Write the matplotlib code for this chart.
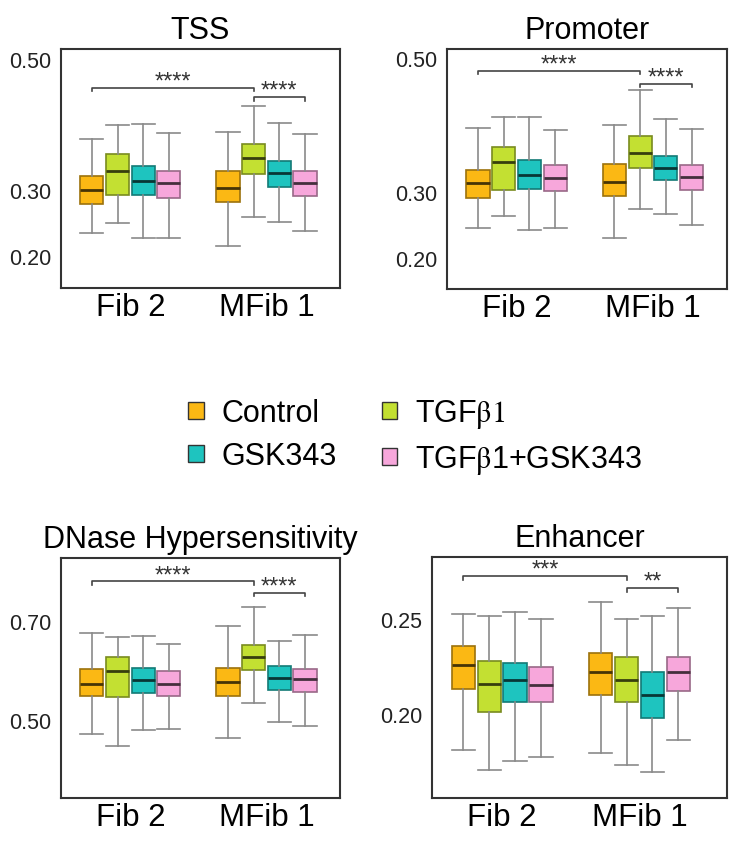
import numpy as np
import matplotlib
matplotlib.use("Agg")
import matplotlib.pyplot as plt
from matplotlib.patches import Patch
from matplotlib.colors import to_rgb

plt.rcParams['font.family'] = ['Liberation Sans', 'DejaVu Sans']
plt.rcParams['mathtext.fontset'] = 'stix'

# Groups and treatments
groups = ['Fib 2', 'MFib 1']
treatments = ['Control', 'TGF$\\mathrm{\\beta1}$', 'GSK343', 'TGF$\\mathrm{\\beta}$1+GSK343']
colors = ['#FBB814', '#C3E032', '#1EC4BF', '#F7A7DB']

# Box stats: Fib 2 (4 treatments) then MFib 1 (4 treatments)
tss_low = [0.235, 0.251, 0.228, 0.228, 0.215, 0.260, 0.252, 0.239]
tss_q1 = [0.279, 0.293, 0.293, 0.288, 0.283, 0.325, 0.305, 0.291]
tss_med = [0.300, 0.330, 0.314, 0.311, 0.304, 0.349, 0.326, 0.311]
tss_q3 = [0.322, 0.355, 0.337, 0.330, 0.329, 0.371, 0.345, 0.329]
tss_high = [0.378, 0.400, 0.401, 0.387, 0.389, 0.428, 0.402, 0.386]

prom_low = [0.245, 0.264, 0.243, 0.245, 0.230, 0.274, 0.266, 0.250]
prom_q1 = [0.290, 0.303, 0.304, 0.301, 0.293, 0.336, 0.317, 0.303]
prom_med = [0.313, 0.345, 0.325, 0.321, 0.315, 0.358, 0.336, 0.322]
prom_q3 = [0.332, 0.367, 0.348, 0.340, 0.341, 0.383, 0.354, 0.340]
prom_high = [0.395, 0.412, 0.412, 0.392, 0.400, 0.452, 0.409, 0.394]

dnase_low = [0.473, 0.448, 0.481, 0.483, 0.465, 0.536, 0.496, 0.489]
dnase_q1 = [0.549, 0.547, 0.555, 0.550, 0.550, 0.602, 0.561, 0.558]
dnase_med = [0.574, 0.600, 0.582, 0.573, 0.577, 0.629, 0.586, 0.584]
dnase_q3 = [0.604, 0.629, 0.606, 0.599, 0.606, 0.653, 0.609, 0.604]
dnase_high = [0.676, 0.668, 0.671, 0.654, 0.690, 0.729, 0.661, 0.672]

enh_low = [0.181, 0.170, 0.175, 0.177, 0.179, 0.173, 0.169, 0.186]
enh_q1 = [0.213, 0.201, 0.206, 0.206, 0.210, 0.206, 0.198, 0.212]
enh_med = [0.226, 0.216, 0.218, 0.215, 0.222, 0.218, 0.210, 0.222]
enh_q3 = [0.236, 0.228, 0.227, 0.225, 0.232, 0.230, 0.222, 0.230]
enh_high = [0.253, 0.252, 0.254, 0.250, 0.259, 0.250, 0.252, 0.256]

panels = [
    ('TSS', [tss_low, tss_q1, tss_med, tss_q3, tss_high],
     [0.20, 0.30, 0.50], ['0.20', '0.30', '0.50'], (0.152, 0.515),
     (0.456, '****'), (0.442, '****')),
    ('Promoter', [prom_low, prom_q1, prom_med, prom_q3, prom_high],
     [0.20, 0.30, 0.50], ['0.20', '0.30', '0.50'], (0.154, 0.514),
     (0.4815, '****'), (0.4615, '****')),
    ('DNase Hypersensitivity', [dnase_low, dnase_q1, dnase_med, dnase_q3, dnase_high],
     [0.50, 0.70], ['0.50', '0.70'], (0.343, 0.828),
     (0.781, '****'), (0.758, '****')),
    ('Enhancer', [enh_low, enh_q1, enh_med, enh_q3, enh_high],
     [0.20, 0.25], ['0.20', '0.25'], (0.1553, 0.283),
     (0.273, '***'), (0.2666, '**')),
]

# axes rectangles in figure fractions
rects = [
    [0.0824, 0.658, 0.377, 0.283],
    [0.604, 0.657, 0.378, 0.284],
    [0.0824, 0.0544, 0.377, 0.284],
    [0.584, 0.0544, 0.399, 0.285],
]

offsets = np.array([-0.283, -0.094, 0.094, 0.283])
box_w = 0.17


def darker(c, f):
    r, g, b = to_rgb(c)
    return (r * f, g * f, b * f)


fig = plt.figure(figsize=(7.4, 8.45), dpi=100)

for (title, stats_lists, yt, ytl, ylim, br_long, br_short), rect in zip(panels, rects):
    ax = fig.add_axes(rect)
    low, q1, med, q3, high = stats_lists
    positions = []
    for gi in range(2):
        for ti in range(4):
            positions.append(gi + 1 + offsets[ti])
    for i in range(8):
        c = colors[i % 4]
        st = [dict(whislo=low[i], q1=q1[i], med=med[i], q3=q3[i], whishi=high[i], fliers=[])]
        ax.bxp(st, positions=[positions[i]], widths=box_w, patch_artist=True,
               showfliers=False,
               boxprops=dict(facecolor=c, edgecolor=darker(c, 0.62), linewidth=1.2),
               medianprops=dict(color=darker(c, 0.28), linewidth=2),
               whiskerprops=dict(color='#8a8a8a', linewidth=1.2),
               capprops=dict(color='#8a8a8a', linewidth=1.2),
               capwidths=box_w, manage_ticks=False)

    ax.set_xlim(0.49, 2.54 if title != 'Enhancer' else 2.64)
    ax.set_ylim(*ylim)
    ax.set_yticks(yt)
    ax.set_yticklabels(ytl, fontsize=15.5, color='#222222')
    ax.set_xticks([1, 2])
    ax.set_xticklabels(groups, fontsize=22.5)
    ax.tick_params(length=0)
    ax.tick_params(axis='y', pad=7)
    ax.tick_params(axis='x', pad=3)
    for s in ax.spines.values():
        s.set_linewidth(1.5)
        s.set_color('#333333')
    ax.set_title(title, fontsize=22, pad=8)

    # significance brackets
    yr = ylim[1] - ylim[0]
    tick = yr * 0.015
    for (y, txt), (x0, x1) in zip([br_long, br_short],
                                  [(1 + offsets[0], 2 + offsets[1]),
                                   (2 + offsets[1], 2 + offsets[3])]):
        ax.plot([x0, x0, x1, x1], [y - tick, y, y, y - tick], color='#444444', lw=1.2)
        ax.text((x0 + x1) / 2, y - yr * 0.02, txt, ha='center', va='bottom',
                fontsize=17, color='#333333')

# legend fills column-wise: reorder so rows read Control/TGF, GSK/TGF+GSK
order = [0, 2, 1, 3]
handles = [Patch(facecolor=colors[i], edgecolor='#333333', linewidth=1.0) for i in order]
labels = [treatments[i] for i in order]
fig.legend(handles, labels, loc='center', bbox_to_anchor=(0.561, 0.482), ncol=2,
           frameon=False, fontsize=22, handlelength=0.5, handleheight=0.5,
           handletextpad=0.6, columnspacing=1.45, labelspacing=0.42)

fig.savefig('out.png', dpi=100)
